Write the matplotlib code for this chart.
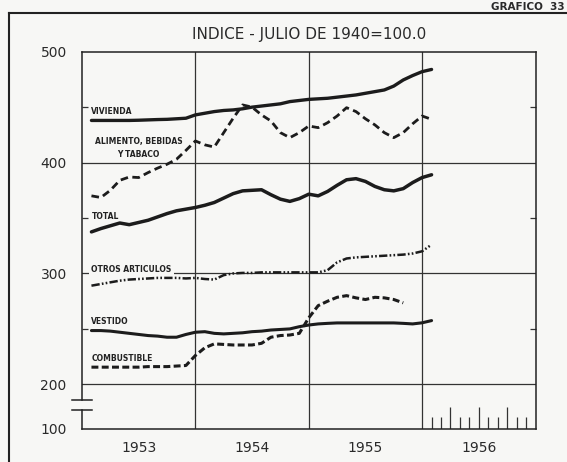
import numpy as np
import matplotlib
matplotlib.use("Agg")
import matplotlib.pyplot as plt
from matplotlib.lines import Line2D

# meses: fin de cada mes, ene 1953 = 1 ... ene 1956 = 37
months = np.arange(1, 38)

vivienda = [438, 438, 438, 438, 438, 438.2, 438.5, 438.8, 439, 439.5, 440, 443,
            444.5, 446, 447, 447.5, 448.5, 450, 451, 452, 453, 455, 456, 457,
            457.5, 458, 459, 460, 461, 462.5, 464, 465.5, 469, 474.5, 478.5, 482,
            484]
alimento = [370, 368.5, 375, 384, 387, 386.5, 391, 395, 398.5, 403, 411, 419.5,
            416, 414, 427, 440, 452, 450, 443, 437.5, 427, 422.5, 427, 433,
            431.5, 436, 442, 449.5, 446, 439.5, 434, 427, 422.5, 427, 435, 442,
            439]
total = [337.5, 340.5, 343, 345.5, 344, 346, 348, 351, 354, 356.5, 358, 359.5,
         361.5, 364, 368, 372, 374.5, 375, 375.5, 371, 367, 365, 367.5, 371.5,
         370, 374, 379.5, 384.5, 385.5, 383, 378.5, 375.5, 374.5, 376.5, 382,
         386.5, 389]
otros = [289, 290.5, 292, 293.5, 294.5, 295, 295.5, 296, 296, 296, 295.5, 296,
         295, 294.5, 298.5, 300, 300.5, 300.5, 301, 301, 301, 301, 301, 301,
         301, 303, 310, 313.5, 314.5, 315, 315.5, 316, 316.5, 317, 318, 320, 326]
vestido = [248.5, 248.5, 248, 247, 246, 245, 244, 243.5, 242.5, 242.5, 245, 247,
           247.5, 246, 245.5, 246, 246.5, 247.5, 248, 249, 249.5, 250, 252,
           253.5, 254.5, 255, 255.4, 255.4, 255.4, 255.4, 255.4, 255.4, 255.4,
           255, 254.5, 255.5, 257.5]
combustible = [215.5, 215.5, 215.5, 215.5, 215.5, 215.5, 216, 216, 216, 216.5,
               217, 226, 233, 236.5, 236, 235.5, 235.5, 235.5, 237, 242.5, 244,
               244.5, 246, 260, 271, 275, 278.5, 280, 278, 276.5, 278.5, 278,
               276.5, 273.5]

years = ["1953", "1954", "1955", "1956"]
year_centers = [6, 18, 30, 42]
year_lines = [12, 24, 36]
y_ticks = [160, 200, 300, 400, 500]
y_labels = ["100", "200", "300", "400", "500"]
y_minor = [250, 350, 450]
month_ticks_1956 = [37, 38, 39, 40, 41, 42, 43, 44, 45, 46, 47]
quarter_ticks = [39, 42, 45]

bg = "#f7f7f5"
ink = "#1c1c1c"
plt.rcParams["font.family"] = ["DejaVu Sans"]
plt.rcParams["lines.scale_dashes"] = False

fig = plt.figure(figsize=(5.67, 4.62), dpi=100, facecolor=bg)
W, H = 567.0, 462.0
ax = fig.add_axes([82 / W, 1 - 428.7 / H, (535.5 - 82) / W, (428.7 - 51.7) / H])
ax.set_facecolor(bg)
ax.set_xlim(0, 48)
ax.set_ylim(160, 500)

# reticula
for xv in year_lines:
    ax.axvline(xv, color="#333333", lw=0.9, zorder=1)
for yv in [200, 300, 400]:
    ax.axhline(yv, color="#333333", lw=0.9, zorder=1)

for side in ["top", "right", "bottom"]:
    ax.spines[side].set_linewidth(1.1)
    ax.spines[side].set_color("#222222")
ax.spines["left"].set_visible(False)

# eje izquierdo cortado entre 100 y 200
yax = ax.get_yaxis_transform()
ax.plot([0, 0], [186, 500], transform=yax, color="#222222", lw=1.1, clip_on=False)
ax.plot([0, 0], [160, 177], transform=yax, color="#222222", lw=1.1, clip_on=False)
for yb in [186, 177]:
    ax.plot([-0.021, 0.021], [yb, yb], transform=yax, color="#222222", lw=1.1,
            clip_on=False)

# ticks mensuales de 1956
for m in month_ticks_1956:
    h = 19.8 if m in quarter_ticks else 10.8
    ax.vlines(m, 160, 160 + h, color="#333333", lw=0.9, zorder=1)

ax.set_yticks(y_ticks)
ax.set_yticklabels(y_labels)
ax.set_yticks(y_minor, minor=True)
ax.tick_params(axis="y", which="major", length=0, pad=11, labelsize=10,
               labelcolor="#2a2a2a")
ax.tick_params(axis="y", which="minor", direction="in", length=4, width=0.9,
               left=True, right=True, color="#333333")
ax.set_xticks(year_centers)
ax.set_xticklabels(years)
ax.tick_params(axis="x", which="major", length=0, pad=9, labelsize=10,
               labelcolor="#2a2a2a")

# series
ax.plot(months, vivienda, color=ink, lw=2.4, solid_capstyle="round", zorder=3)
ax.plot(months, alimento, color=ink, lw=2.0, dashes=(5.5, 3.2), zorder=3)
ax.plot(months, total, color=ink, lw=2.5, solid_capstyle="round", zorder=3)
ax.plot(months, otros, color=ink, lw=1.8,
        dashes=(6, 1.6, 1.2, 1.6, 1.2, 1.6), zorder=3)
ax.plot(months, vestido, color=ink, lw=2.2, solid_capstyle="round", zorder=3)
ax.plot(months[:len(combustible)], combustible, color=ink, lw=2.2,
        dashes=(5, 2.4), zorder=3)

lab = dict(fontsize=5.5, fontweight="bold", color="#222222", zorder=2.5,
           bbox=dict(facecolor=bg, edgecolor="none", pad=1.5))
ax.text(1.0, 446, "VIVIENDA", ha="left", va="center", **lab)
ax.text(6.0, 413, "ALIMENTO, BEBIDAS\nY TABACO", ha="center", va="center",
        linespacing=1.5, **lab)
ax.text(1.0, 351, "TOTAL", ha="left", va="center", **lab)
ax.text(1.0, 304, "OTROS ARTICULOS", ha="left", va="center", **lab)
ax.text(1.0, 256.5, "VESTIDO", ha="left", va="center", **lab)
ax.text(1.0, 223.5, "COMBUSTIBLE", ha="left", va="center", **lab)

ax.set_title("INDICE - JULIO DE 1940=100.0", fontsize=11, pad=9, color="#2a2a2a")

# marco de la pagina
fig.add_artist(Line2D([9 / W, 9 / W], [0, 1 - 12.5 / H], color="#222222", lw=1.5))
fig.add_artist(Line2D([9 / W, 1], [1 - 12.5 / H, 1 - 12.5 / H], color="#222222",
                      lw=1.5))
fig.text(0.995, 1 - 10 / H, "GRAFICO  33", fontsize=7.5, fontweight="bold",
         color="#2a2a2a", va="baseline", ha="right")

fig.savefig("out.png", dpi=100, facecolor=bg)
